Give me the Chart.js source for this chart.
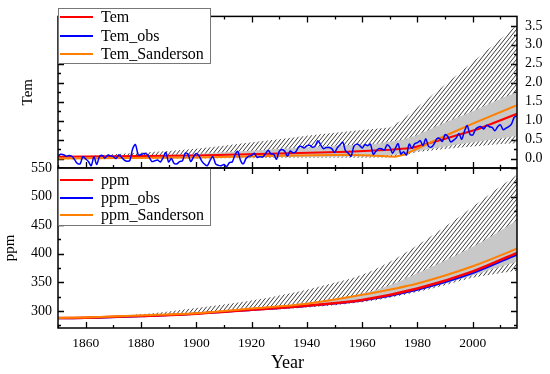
<!DOCTYPE html>
<html><head><meta charset="utf-8">
<script src="https://cdn.jsdelivr.net/npm/chart.js@4/dist/chart.umd.min.js"></script>
<style>
html,body{margin:0;padding:0;background:#fff;}
#wrap{position:relative;width:550px;height:374px;overflow:hidden;}
canvas{position:absolute;left:0;top:0;}
</style></head><body>
<div id="wrap">
<canvas id="cBot" width="550" height="374"></canvas>
<canvas id="cTop" width="550" height="374"></canvas>
</div>
<script>
// ---------------- DATA ----------------
const xMajorTicks = [1860,1880,1900,1920,1940,1960,1980,2000];
const xMinorTicks = [1850,1870,1890,1910,1930,1950,1970,1990,2010];
const temTicks = [0,0.5,1,1.5,2,2.5,3,3.5];
const temMinorTicks = [0.25,0.75,1.25,1.75,2.25,2.75,3.25];
const ppmTicks = [300,350,400,450,500,550];
const ppmMinorTicks = [275,325,375,425,475,525];

// Top panel (Tem)
const temYears      = [1850,1900,1930,1955,1970,1978,1990,2002,2016];
const temModel      = [0.05,0.08,0.13,0.18,0.23,0.28,0.52,0.78,1.18];
const temSandYears  = [1850,1900,1930,1955,1965,1972,1975,1980,1990,2000,2016];
const temSanderson  = [0.00,0.03,0.07,0.10,0.07,0.05,0.10,0.26,0.60,0.92,1.41];
const obsStartYear  = 1850;
const temObs = [
 0.07,0.11,0.10,0.06,0.08,0.06,-0.03,-0.13,-0.14,0.05,
 -0.01,-0.08,-0.19,0.05,-0.16,0.05,0.08,0.01,0.09,0.07,
 0.05,0.00,0.10,0.03,-0.04,-0.07,-0.05,0.26,0.37,0.10,
 0.10,0.13,0.12,0.03,-0.08,-0.06,-0.04,-0.09,0.02,0.16,
 -0.09,0.00,-0.13,-0.14,-0.08,-0.06,0.14,0.12,-0.08,0.04,
 0.13,0.07,-0.07,-0.15,-0.19,-0.05,0.05,-0.14,-0.18,-0.19,
 -0.16,-0.21,-0.11,-0.09,0.09,0.19,-0.05,-0.14,0.00,0.06,
 0.08,0.14,0.03,0.05,0.04,0.12,0.22,0.12,0.12,-0.02,
 0.19,0.24,0.19,0.06,0.20,0.15,0.18,0.30,0.32,0.28,
 0.34,0.35,0.30,0.33,0.47,0.36,0.26,0.29,0.29,0.26,
 0.16,0.28,0.36,0.43,0.20,0.14,0.06,0.32,0.38,0.35,
 0.28,0.37,0.34,0.38,0.11,0.19,0.26,0.26,0.22,0.36,
 0.30,0.14,0.27,0.39,0.12,0.18,0.09,0.38,0.27,0.39,
 0.42,0.47,0.34,0.52,0.32,0.30,0.38,0.52,0.53,0.45,
 0.63,0.58,0.44,0.48,0.54,0.66,0.51,0.72,0.87,0.64,
 0.62,0.77,0.83,0.84,0.78,0.88,0.84,0.82,0.73,0.84,
 0.89,0.76,0.80,0.84,0.91,1.09,1.13
];
const temOuterYears = [1850,1860,1870,1880,1890,1900,1910,1920,1930,1940,1950,1960,1970,1975,1980,1990,2000,2010,2016];
const temOuterHi    = [0.02,0.06,0.11,0.16,0.20,0.26,0.34,0.43,0.51,0.60,0.68,0.75,0.82,1.05,1.35,1.95,2.55,3.15,3.53];
const temOuterLo    = [-0.02,-0.02,-0.01,-0.01,0.00,0.00,0.01,0.01,0.02,0.02,0.02,0.02,0.03,0.08,0.17,0.25,0.32,0.38,0.40];
const temInnerYears = [1850,1900,1930,1950,1965,1975,1980,1990,2000,2010,2016];
const temInnerHi    = [0.02,0.12,0.25,0.34,0.38,0.50,0.62,0.95,1.25,1.58,1.75];
const temInnerLo    = [0.00,0.02,0.04,0.05,0.06,0.12,0.20,0.32,0.43,0.53,0.60];

// Bottom panel (ppm)
const ppmYears      = [1850,1860,1880,1900,1920,1940,1960,1980,2000,2016];
const ppmModel      = [287.5,288,291,295,302,309,319,339,369,401.5];
const ppmObs        = [287,287.5,290.5,295,301.5,308.5,318,337,366,398.5];
const ppmSanderson  = [287.5,288.5,292,296,304,312.5,328,348,378,409];
const ppmOuterYears = [1850,1860,1870,1880,1890,1900,1910,1920,1930,1940,1950,1960,1970,1980,1990,2000,2010,2016];
const ppmOuterHi    = [287,288,291,294,299,305,311,318,327,337,349,363,386,415,447,482,518,538];
const ppmOuterLo    = [286,287,288,289.5,291.5,294,297,300.5,303,306,310,315,323,333,345,358,366,370];
const ppmInnerYears = [1850,1900,1940,1960,1970,1980,1990,2000,2010,2016];
const ppmInnerHi    = [288,297,314,330,345,366,388,412,440,459];
const ppmInnerLo    = [287,295,308,317,325,336,348,362,377,386];

// ---------------- HELPERS ----------------
const FONT = "'Liberation Serif','DejaVu Serif',serif";
Chart.defaults.font.family = FONT;
Chart.defaults.color = '#000';
Chart.defaults.elements.point.radius = 0;
const pts = (xs, ys) => xs.map((x, i) => ({x: x, y: ys[i]}));
const obsPts = temObs.map((v, i) => ({x: obsStartYear + i, y: v}));

function makeHatch(ctx){
  const w = 4, h = 5;
  const c = document.createElement('canvas'); c.width = w; c.height = h;
  const g = c.getContext('2d');
  g.strokeStyle = '#3a3a3a'; g.lineWidth = 1;
  g.beginPath();
  for (let k = -1; k <= 1; k++) {
    g.moveTo(k*w - 0.5*w, h + 0.5*h);
    g.lineTo(k*w + 1.5*w, -0.5*h);
  }
  g.stroke();
  return ctx.createPattern(c, 'repeat');
}

const frameTicks = {
  id: 'frameTicks',
  beforeDatasetsDraw(chart, args, o){
    const ctx = chart.ctx, a = chart.chartArea;
    const xs = chart.scales.x, ys = chart.scales[o.yId];
    ctx.save();
    ctx.strokeStyle = '#000'; ctx.lineWidth = 1.3;
    ctx.beginPath();
    const xt = (vals, len) => vals.forEach(v => {
      const px = Math.round(xs.getPixelForValue(v)) + 0.5;
      ctx.moveTo(px, a.top); ctx.lineTo(px, a.top + len);
      ctx.moveTo(px, a.bottom); ctx.lineTo(px, a.bottom - len);
    });
    const yt = (vals, len) => vals.forEach(v => {
      const py = Math.round(ys.getPixelForValue(v)) + 0.5;
      ctx.moveTo(a.left, py); ctx.lineTo(a.left + len, py);
      ctx.moveTo(a.right, py); ctx.lineTo(a.right - len, py);
    });
    xt(xMajorTicks, 6); xt(xMinorTicks, 3);
    yt(o.yMajor, 6); yt(o.yMinor, 3);
    ctx.stroke();
    ctx.restore();
  },
  afterDatasetsDraw(chart, args, o){
    const ctx = chart.ctx, a = chart.chartArea;
    ctx.save();
    ctx.strokeStyle = '#000'; ctx.lineWidth = 1.5;
    ctx.strokeRect(a.left, a.top, a.right - a.left, a.bottom - a.top);
    // legend
    const L = o.legend;
    ctx.fillStyle = '#fff';
    ctx.fillRect(L.x, L.y, L.w, L.h);
    ctx.strokeStyle = '#777'; ctx.lineWidth = 1;
    ctx.strokeRect(L.x + 0.5, L.y + 0.5, L.w, L.h);
    const items = chart.data.datasets.filter(d => d.label);
    ctx.font = '16px ' + FONT;
    ctx.textBaseline = 'middle'; ctx.textAlign = 'left';
    items.forEach((d, i) => {
      const y = L.rows[i];
      ctx.strokeStyle = d.borderColor; ctx.lineWidth = 2;
      ctx.beginPath(); ctx.moveTo(L.x + 2, y); ctx.lineTo(L.x + 35, y); ctx.stroke();
      ctx.fillStyle = '#000';
      ctx.fillText(d.label, L.x + 43, y + 1);
    });
    ctx.restore();
  }
};

const noGrid = {display: false, drawTicks: false};
const noBorder = {display: false};

// ---------------- TOP CHART ----------------
const topCtx = document.getElementById('cTop').getContext('2d');
const hatchTop = makeHatch(topCtx);
new Chart(topCtx, {
  type: 'line',
  data: {datasets: [
    {label: 'Tem', data: pts(temYears, temModel), borderColor: '#ff0000', borderWidth: 2, order: 2},
    {label: 'Tem_obs', data: obsPts, borderColor: '#0000ff', borderWidth: 1.5, order: 0, tension: 0.3},
    {label: 'Tem_Sanderson', data: pts(temSandYears, temSanderson), borderColor: '#ff8000', borderWidth: 2, order: 1},
    {data: pts(temInnerYears, temInnerHi), borderColor: 'transparent', borderWidth: 0, backgroundColor: '#c8c8c8', fill: '+1', order: 5},
    {data: pts(temInnerYears, temInnerLo), borderColor: 'transparent', borderWidth: 0, fill: false, order: 6},
    {data: pts(temOuterYears, temOuterHi), borderColor: 'transparent', borderWidth: 0, backgroundColor: hatchTop, fill: '+1', order: 7},
    {data: pts(temOuterYears, temOuterLo), borderColor: 'transparent', borderWidth: 0, fill: false, order: 8}
  ]},
  options: {
    responsive: false, animation: false,
    layout: {padding: {top: 8, bottom: 206, left: 0, right: 0}},
    plugins: {legend: {display: false}, tooltip: {enabled: false},
      frameTicks: {yId: 'y', yMajor: temTicks, yMinor: temMinorTicks,
        legend: {x: 58, y: 8, w: 152, h: 55, rows: [17, 36, 54]}}},
    scales: {
      x: {type: 'linear', min: 1850, max: 2016, grid: noGrid, border: noBorder,
          ticks: {display: false}, afterFit: s => { s.height = 0; }},
      yl: {position: 'left', min: -0.25, max: 3.75, grid: noGrid, border: noBorder,
           ticks: {display: false},
           title: {display: true, text: 'Tem', font: {size: 15}, padding: {top: 19, bottom: 0}},
           afterFit: s => { s.width = 58; }},
      y: {position: 'right', min: -0.25, max: 3.75, grid: noGrid, border: noBorder,
          ticks: {padding: 8, font: {size: 14}, autoSkip: false, callback: v => v.toFixed(1)},
          afterBuildTicks: s => { s.ticks = temTicks.map(v => ({value: v})); },
          afterFit: s => { s.width = 33; }}
    }
  },
  plugins: [frameTicks]
});

// ---------------- BOTTOM CHART ----------------
const botCtx = document.getElementById('cBot').getContext('2d');
const hatchBot = makeHatch(botCtx);
new Chart(botCtx, {
  type: 'line',
  data: {datasets: [
    {label: 'ppm', data: pts(ppmYears, ppmModel), borderColor: '#ff0000', borderWidth: 2.5, order: 1, cubicInterpolationMode: 'monotone'},
    {label: 'ppm_obs', data: pts(ppmYears, ppmObs), borderColor: '#0000ff', borderWidth: 2, order: 2, cubicInterpolationMode: 'monotone'},
    {label: 'ppm_Sanderson', data: pts(ppmYears, ppmSanderson), borderColor: '#ff8000', borderWidth: 2, order: 0, cubicInterpolationMode: 'monotone'},
    {data: pts(ppmInnerYears, ppmInnerHi), borderColor: 'transparent', borderWidth: 0, backgroundColor: '#c8c8c8', fill: '+1', order: 5, cubicInterpolationMode: 'monotone'},
    {data: pts(ppmInnerYears, ppmInnerLo), borderColor: 'transparent', borderWidth: 0, fill: false, order: 6, cubicInterpolationMode: 'monotone'},
    {data: pts(ppmOuterYears, ppmOuterHi), borderColor: 'transparent', borderWidth: 0, backgroundColor: hatchBot, fill: '+1', order: 7, cubicInterpolationMode: 'monotone'},
    {data: pts(ppmOuterYears, ppmOuterLo), borderColor: 'transparent', borderWidth: 0, fill: false, order: 8, cubicInterpolationMode: 'monotone'}
  ]},
  options: {
    responsive: false, animation: false,
    layout: {padding: {top: 168, bottom: 0, left: 0, right: 33}},
    plugins: {legend: {display: false}, tooltip: {enabled: false},
      frameTicks: {yId: 'y', yMajor: ppmTicks, yMinor: ppmMinorTicks,
        legend: {x: 58, y: 168, w: 152, h: 57, rows: [180, 198, 215]}}},
    scales: {
      x: {type: 'linear', min: 1850, max: 2016, grid: noGrid, border: noBorder,
          ticks: {padding: 7, font: {size: 13.5}, autoSkip: false, maxRotation: 0, callback: v => String(v)},
          afterBuildTicks: s => { s.ticks = xMajorTicks.map(v => ({value: v})); },
          title: {display: true, text: 'Year', font: {size: 18}, padding: {top: 0, bottom: 0}},
          afterFit: s => { s.height = 46; }},
      y: {position: 'left', min: 270, max: 550, grid: noGrid, border: noBorder,
          ticks: {padding: 6, font: {size: 14}, autoSkip: false},
          afterBuildTicks: s => { s.ticks = ppmTicks.map(v => ({value: v})); },
          title: {display: true, text: 'ppm', font: {size: 15}, padding: {top: 1, bottom: 0}},
          afterFit: s => { s.width = 58; }}
    }
  },
  plugins: [frameTicks]
});
</script>
</body></html>
